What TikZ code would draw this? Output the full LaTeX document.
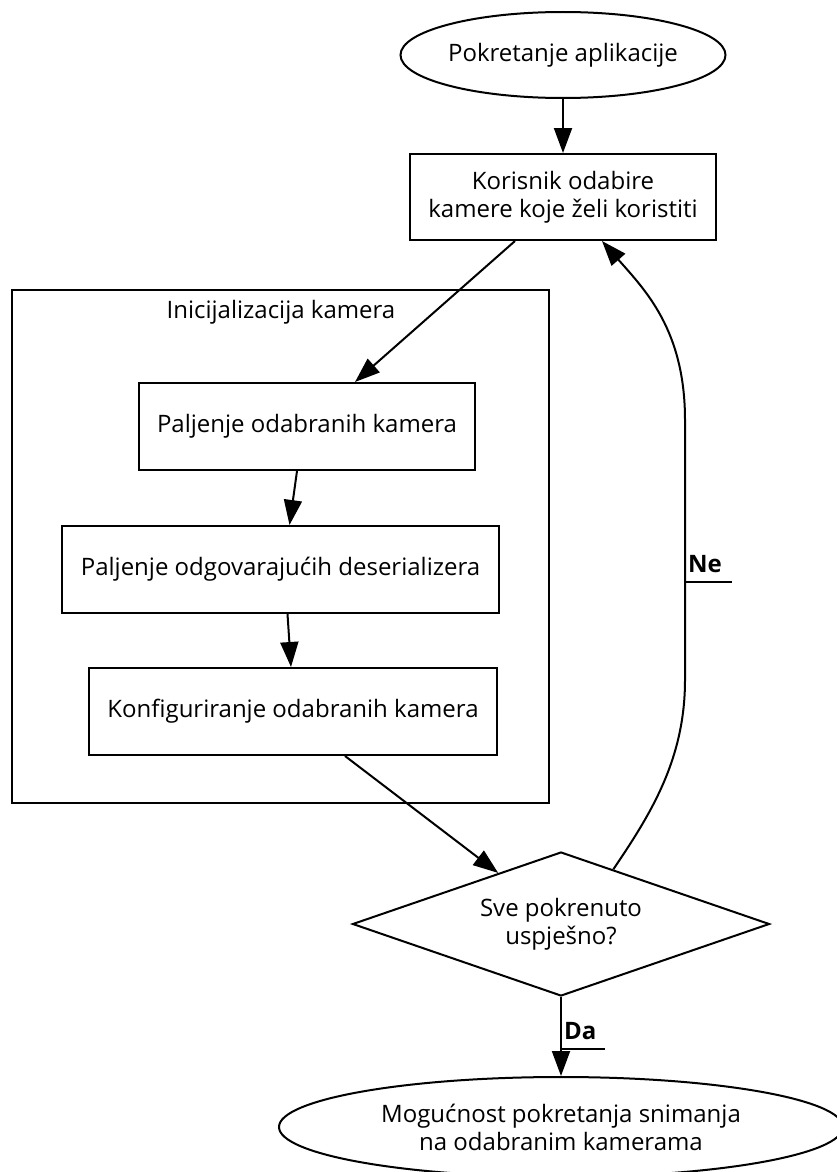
\documentclass[tikz,border=0pt]{standalone}
\usepackage{fontspec}
\setmainfont{Open Sans}
\usepackage{tikz}
\usetikzlibrary{shapes.geometric,arrows.meta,positioning,calc}

\begin{document}
\begin{tikzpicture}[
    x=1pt,y=-1pt,
    line width=2pt,
    >={Triangle[length=25pt,width=18pt]},
    every node/.style={font=\fontsize{24pt}{28pt}\selectfont},
    terminal/.style={ellipse,draw,inner sep=0pt,align=center},
    process/.style={rectangle,draw,inner sep=0pt,align=center},
    decision/.style={diamond,draw,inner sep=0pt,shape aspect=2.9,align=center},
    answer/.style={font=\fontsize{24pt}{28pt}\selectfont\bfseries,anchor=south west,inner sep=2pt,text depth=7pt,align=left}
]
\useasboundingbox (0,0) rectangle (836,1172);

\node[terminal,minimum width=318pt,minimum height=86pt] (start) at (563,55) {Pokretanje aplikacije};
\node[process,minimum width=306pt,minimum height=86pt] (kor) at (563,197) {Korisnik odabire\\kamere koje želi koristiti};

\node[process,minimum width=537pt,minimum height=513pt] (init) at (280.5,546.5) {};
\node (initlbl) at (281,312) {Inicijalizacija kamera};
\node[process,minimum width=336pt,minimum height=87pt] (pal) at (307,426.5) {Paljenje odabranih kamera};
\node[process,minimum width=437pt,minimum height=87pt] (des) at (280.5,569.5) {Paljenje odgovarajućih deserializera};
\node[process,minimum width=408pt,minimum height=87pt] (konf) at (293,711.5) {Konfiguriranje odabranih kamera};

\node[decision,minimum width=417pt,minimum height=144pt] (dec) at (561,924) {Sve pokrenuto\\uspješno?};
\node[terminal,minimum width=564pt,minimum height=100pt] (end) at (561,1127) {Mogućnost pokretanja snimanja\\na odabranim kamerama};

\draw[->] (start.south) -- (kor.north);
\draw[->] ([xshift=-48pt]kor.south) -- ([xshift=48pt]pal.north);
\draw[->] ([xshift=-10pt]pal.south) -- ([xshift=9pt]des.north);
\draw[->] ([xshift=7pt]des.south) -- ([xshift=-2pt]konf.north);
\draw[->] ([xshift=52pt]konf.south) -- ($(dec.north)!0.3!(dec.west)$);
\draw[->] ($(dec.north)!0.25!(dec.east)$) .. controls (650,815) and (685,760) .. (685,680) -- (685,420) .. controls (685,330) and (645,290) .. ([xshift=39pt]kor.south);
\draw[->] (dec.south) -- (end.north);

\node[answer,text width=41pt] (ne) at (685,582) {Ne};
\draw (ne.south west) -- (ne.south east);
\node[answer,text width=38pt] (da) at (561,1049) {Da};
\draw (da.south west) -- (da.south east);
\end{tikzpicture}
\end{document}
